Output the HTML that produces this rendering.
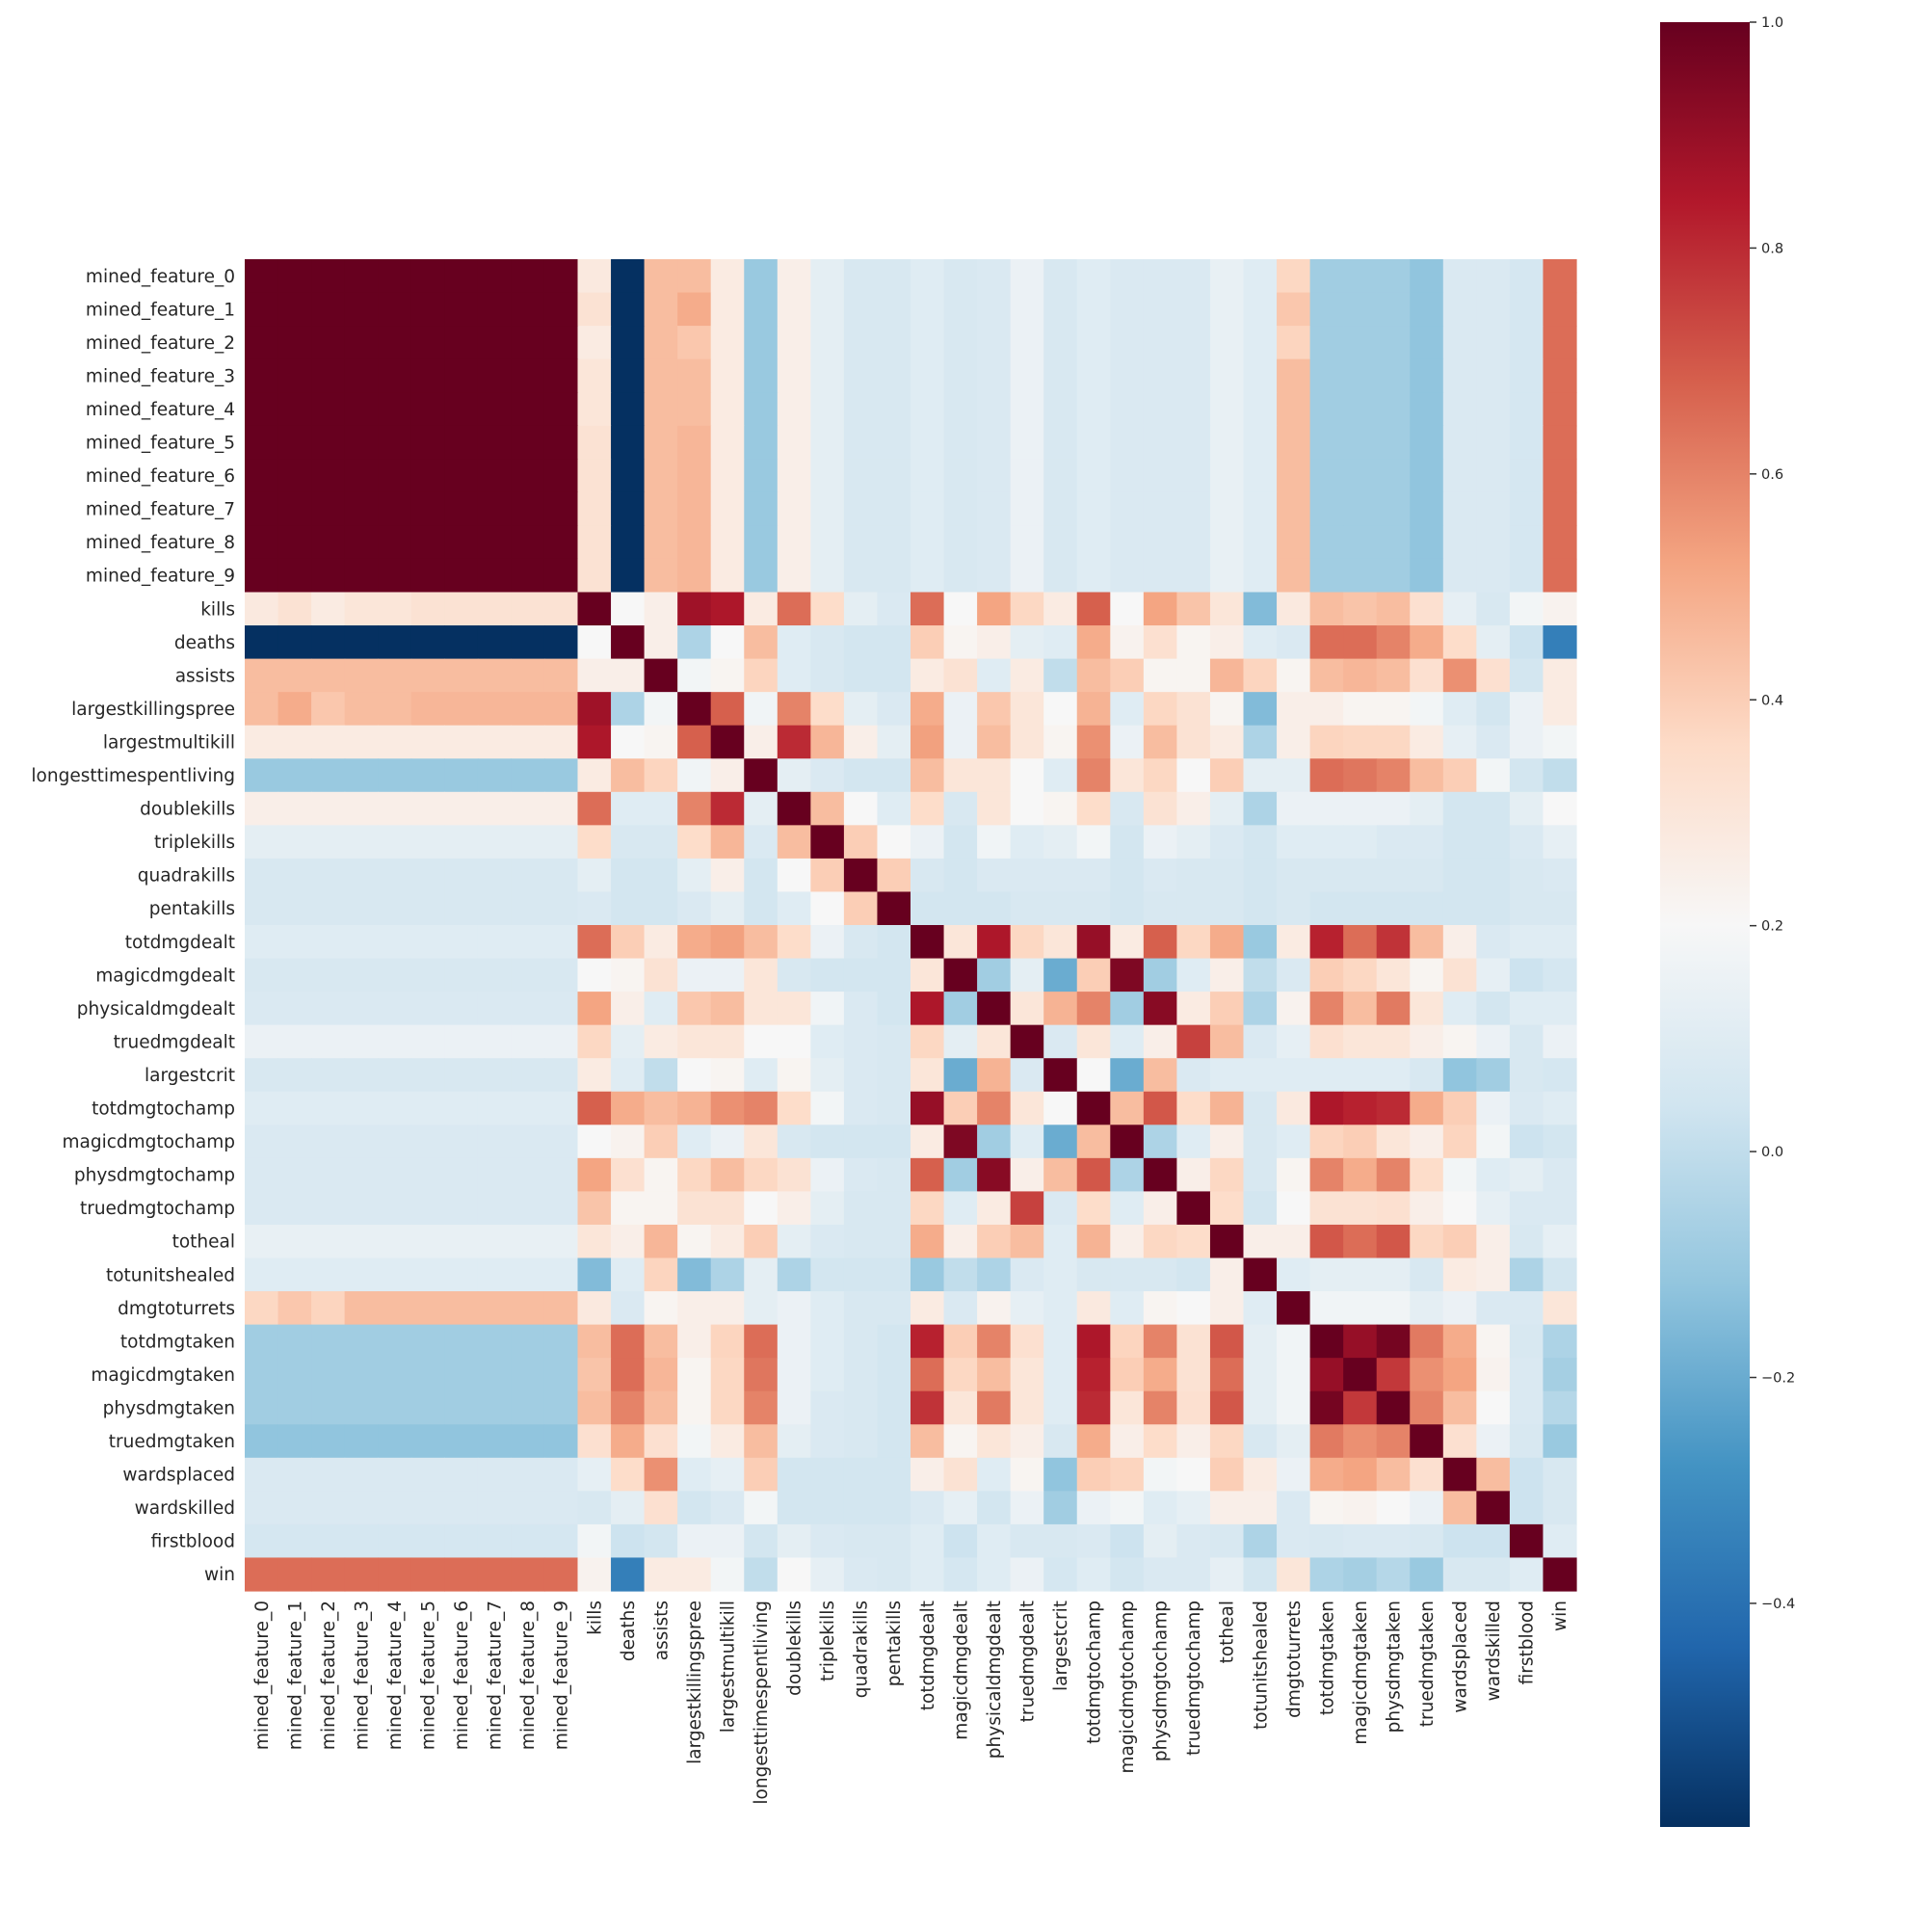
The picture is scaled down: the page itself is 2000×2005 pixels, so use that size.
<!DOCTYPE html>
<html><head><meta charset="utf-8"><style>
body{margin:0;background:#fff;}
svg text{font-family:"DejaVu Sans","Liberation Sans",sans-serif;fill:#262626;}
</style></head><body>
<svg id="chart" width="2000" height="2000" xmlns="http://www.w3.org/2000/svg">
<defs><linearGradient id="cbgrad" x1="0" y1="1" x2="0" y2="0"></linearGradient></defs>
<g id="cells"></g>
<g id="ylabels"></g>
<g id="xlabels"></g>
<g id="cbar"></g>
</svg>
<script>
const labels = ["mined_feature_0","mined_feature_1","mined_feature_2","mined_feature_3","mined_feature_4","mined_feature_5","mined_feature_6","mined_feature_7","mined_feature_8","mined_feature_9","kills","deaths","assists","largestkillingspree","largestmultikill","longesttimespentliving","doublekills","triplekills","quadrakills","pentakills","totdmgdealt","magicdmgdealt","physicaldmgdealt","truedmgdealt","largestcrit","totdmgtochamp","magicdmgtochamp","physdmgtochamp","truedmgtochamp","totheal","totunitshealed","dmgtoturrets","totdmgtaken","magicdmgtaken","physdmgtaken","truedmgtaken","wardsplaced","wardskilled","firstblood","win"];
// correlation of mined features with the other 30 variables (kills..win)
const minedCorr = [0.32,-0.6,0.45,0.45,0.27,-0.1,0.25,0.12,0.07,0.07,0.1,0.07,0.08,0.15,0.07,0.1,0.08,0.08,0.08,0.14,0.1,0.45,-0.08,-0.08,-0.08,-0.12,0.08,0.08,0.06,0.65];
const minedKills = [0.28,0.32,0.27,0.3,0.3,0.32,0.32,0.32,0.32,0.32];
const minedLks = [0.45,0.5,0.42,0.45,0.45,0.47,0.47,0.47,0.47,0.47];
const minedTurrets = [0.37,0.42,0.38,0.45,0.45,0.45,0.45,0.45,0.45,0.45];
// lower triangle among the 30 non-mined variables (row i has i+1 values)
const lower = [
[1],
[0.2,1],
[0.25,0.25,1],
[0.88,-0.05,0.18,1],
[0.85,0.2,0.22,0.68,1],
[0.27,0.45,0.38,0.17,0.25,1],
[0.65,0.1,0.1,0.6,0.8,0.12,1],
[0.35,0.07,0.07,0.35,0.47,0.08,0.45,1],
[0.12,0.05,0.05,0.12,0.25,0.05,0.2,0.4,1],
[0.08,0.05,0.05,0.08,0.12,0.05,0.1,0.2,0.4,1],
[0.65,0.4,0.27,0.5,0.53,0.45,0.35,0.15,0.07,0.05,1],
[0.2,0.22,0.32,0.15,0.15,0.3,0.07,0.05,0.05,0.05,0.3,1],
[0.52,0.25,0.1,0.42,0.45,0.3,0.3,0.17,0.08,0.05,0.85,-0.08,1],
[0.37,0.12,0.27,0.3,0.3,0.2,0.2,0.1,0.08,0.07,0.37,0.12,0.3,1],
[0.27,0.1,0.0,0.2,0.22,0.1,0.22,0.12,0.08,0.07,0.3,-0.2,0.48,0.08,1],
[0.68,0.5,0.45,0.48,0.57,0.6,0.35,0.18,0.08,0.07,0.9,0.4,0.6,0.3,0.2,1],
[0.2,0.23,0.4,0.1,0.15,0.3,0.07,0.05,0.05,0.05,0.27,0.95,-0.08,0.1,-0.2,0.45,1],
[0.52,0.33,0.22,0.37,0.45,0.37,0.32,0.15,0.08,0.07,0.68,-0.08,0.93,0.25,0.45,0.7,-0.05,1],
[0.43,0.22,0.22,0.32,0.32,0.2,0.25,0.12,0.07,0.07,0.37,0.1,0.27,0.75,0.08,0.35,0.1,0.25,1],
[0.3,0.25,0.47,0.22,0.27,0.4,0.12,0.08,0.07,0.07,0.5,0.25,0.4,0.45,0.1,0.48,0.25,0.37,0.35,1],
[-0.15,0.1,0.38,-0.15,-0.05,0.12,-0.05,0.05,0.05,0.05,-0.1,0.0,-0.05,0.08,0.1,0.07,0.07,0.07,0.05,0.25,1],
[0.28,0.08,0.22,0.25,0.25,0.12,0.15,0.1,0.07,0.07,0.27,0.08,0.23,0.13,0.1,0.28,0.1,0.22,0.2,0.25,0.1,1],
[0.45,0.65,0.45,0.25,0.38,0.65,0.15,0.1,0.07,0.05,0.82,0.4,0.6,0.33,0.1,0.85,0.38,0.6,0.32,0.7,0.12,0.17,1],
[0.43,0.65,0.47,0.22,0.37,0.63,0.15,0.1,0.07,0.05,0.65,0.37,0.45,0.3,0.1,0.82,0.4,0.5,0.32,0.65,0.12,0.17,0.9,1],
[0.45,0.6,0.45,0.22,0.37,0.6,0.15,0.08,0.07,0.05,0.78,0.3,0.62,0.3,0.1,0.8,0.3,0.6,0.33,0.7,0.12,0.17,0.97,0.77,1],
[0.33,0.5,0.33,0.18,0.27,0.45,0.12,0.08,0.07,0.05,0.45,0.22,0.3,0.25,0.07,0.5,0.25,0.35,0.25,0.37,0.07,0.12,0.62,0.57,0.6,1],
[0.13,0.35,0.57,0.1,0.13,0.4,0.05,0.05,0.05,0.05,0.25,0.32,0.1,0.22,-0.12,0.4,0.38,0.18,0.2,0.4,0.27,0.15,0.5,0.52,0.45,0.33,1],
[0.07,0.12,0.33,0.05,0.08,0.18,0.05,0.05,0.05,0.05,0.08,0.13,0.05,0.15,-0.08,0.15,0.18,0.1,0.13,0.25,0.25,0.08,0.22,0.23,0.2,0.15,0.45,1],
[0.18,0.03,0.05,0.15,0.15,0.05,0.12,0.08,0.07,0.07,0.1,0.03,0.1,0.07,0.07,0.08,0.03,0.12,0.08,0.07,-0.05,0.08,0.07,0.08,0.08,0.07,0.03,0.03,1],
[0.23,-0.35,0.27,0.27,0.18,0.0,0.2,0.13,0.08,0.07,0.1,0.06,0.1,0.15,0.06,0.1,0.05,0.08,0.08,0.13,0.05,0.3,-0.05,-0.07,-0.03,-0.1,0.07,0.07,0.1,1]
];
const cbTicks = [1.0,0.8,0.6,0.4,0.2,0.0,-0.2,-0.4];
const cbTickLabels = ["1.0","0.8","0.6","0.4","0.2","0.0","\u22120.2","\u22120.4"];
const vmin = -0.598, vmax = 1.0;

const N = labels.length;
const M = [];
for (let i=0;i<N;i++){M.push(new Array(N).fill(0));}
for (let i=0;i<N;i++){
  for (let j=0;j<N;j++){
    let v;
    if (i<10 && j<10) v = 1;
    else if (i<10 || j<10){
      const m = i<10 ? i : j, o = (i<10 ? j : i) - 10;
      v = minedCorr[o];
      if (o===0) v = minedKills[m];
      if (o===3) v = minedLks[m];
      if (o===21) v = minedTurrets[m];
    } else {
      const a=i-10,b=j-10;
      v = a>=b ? lower[a][b] : lower[b][a];
    }
    M[i][j]=v;
  }
}
const stops = ["#053061","#2166ac","#4393c3","#92c5de","#d1e5f0","#f7f7f7","#fddbc7","#f4a582","#d6604d","#b2182b","#67001f"];
function hex(h){return [parseInt(h.substr(1,2),16),parseInt(h.substr(3,2),16),parseInt(h.substr(5,2),16)];}
function color(v){
  let t=(v-vmin)/(vmax-vmin); t=Math.max(0,Math.min(1,t));
  const p=t*10, k=Math.min(9,Math.floor(p)), f=p-k;
  const a=hex(stops[k]), b=hex(stops[k+1]);
  return "rgb("+a.map((x,i)=>Math.round(x+(b[i]-x)*f)).join(",")+")";
}
const X0=254, Y0=269, W=1382, cs=W/N;
const xs = j=>X0+j*cs, ys = i=>Y0+i*cs;
const NS="http://www.w3.org/2000/svg";
const cells=document.getElementById('cells');
for (let i=0;i<N;i++) for (let j=0;j<N;j++){
  const r=document.createElementNS(NS,'rect');
  r.setAttribute('x',xs(j)); r.setAttribute('y',ys(i));
  r.setAttribute('width',cs+0.6); r.setAttribute('height',cs+0.6);
  r.setAttribute('fill',color(M[i][j]));
  
  
  cells.appendChild(r);
}
const yl=document.getElementById('ylabels'), xl=document.getElementById('xlabels');
labels.forEach((l,i)=>{
  const t=document.createElementNS(NS,'text');
  t.setAttribute('x',X0-10); t.setAttribute('y',ys(i)+cs/2+6.5);
  t.setAttribute('text-anchor','end'); t.setAttribute('font-size','18.5');
  t.textContent=l;
  
  
  yl.appendChild(t);
  const u=document.createElementNS(NS,'text');
  const cx=xs(i)+cs/2+6.5, cy=Y0+W+10;
  u.setAttribute('x',cx); u.setAttribute('y',cy);
  u.setAttribute('text-anchor','end'); u.setAttribute('font-size','18.5');
  u.setAttribute('transform','rotate(-90 '+cx+' '+cy+')');
  u.textContent=l;
  
  
  xl.appendChild(u);
});
// colorbar
const grad=document.getElementById('cbgrad');
stops.forEach((s,k)=>{const st=document.createElementNS(NS,'stop');st.setAttribute('offset',(k/10));st.setAttribute('stop-color',s);grad.appendChild(st);});
const cb=document.getElementById('cbar');
const CBX=1723, CBW=93, CBT=23, CBB=1896;
const cy = v=>CBB-(v-vmin)/(vmax-vmin)*(CBB-CBT);
const rect=document.createElementNS(NS,'rect');
rect.setAttribute('x',CBX);rect.setAttribute('y',CBT);rect.setAttribute('width',CBW);rect.setAttribute('height',CBB-CBT);
rect.setAttribute('fill','url(#cbgrad)');


cb.appendChild(rect);
cbTicks.forEach((v,k)=>{
  const y=cy(v);
  const ln=document.createElementNS(NS,'line');
  ln.setAttribute('x1',CBX+CBW);ln.setAttribute('x2',CBX+CBW+7);ln.setAttribute('y1',y);ln.setAttribute('y2',y);
  ln.setAttribute('stroke','#333');ln.setAttribute('stroke-width','1.5');
  
  
  cb.appendChild(ln);
  const t=document.createElementNS(NS,'text');
  t.setAttribute('x',CBX+CBW+12);t.setAttribute('y',y+5);t.setAttribute('font-size','14.5');
  t.textContent=cbTickLabels[k];
  
  
  cb.appendChild(t);
});
</script>
</body></html>
